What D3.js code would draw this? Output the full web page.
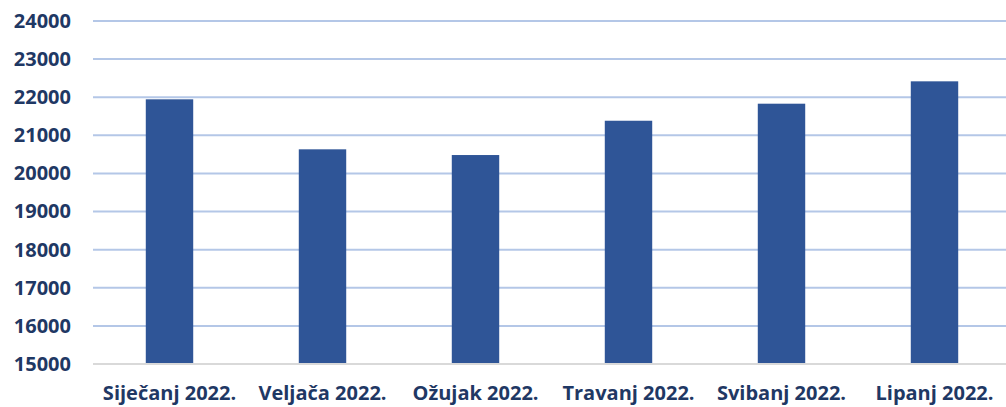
<!DOCTYPE html>
<html>
<head>
<meta charset="utf-8">
<script src="https://cdn.jsdelivr.net/npm/d3@7"></script>
<style>
  body { margin: 0; background: #fff; }
  text { font-family: "Open Sans", sans-serif; font-weight: 700; fill: #1F3864; }
</style>
</head>
<body>
<svg id="chart" width="1006" height="407"></svg>
<script>
// Data
var months = ["Siječanj 2022.", "Veljača 2022.", "Ožujak 2022.", "Travanj 2022.", "Svibanj 2022.", "Lipanj 2022."];
var counts = [21945, 20633, 20483, 21383, 21830, 22417];
var yTicks = [15000, 16000, 17000, 18000, 19000, 20000, 21000, 22000, 23000, 24000];

var svg = d3.select("#chart");
var margin = { left: 93, right: 0, top: 21, bottom: 43 };
var width = 1006 - margin.left - margin.right;
var height = 407 - margin.top - margin.bottom;

var g = svg.append("g").attr("transform", "translate(" + margin.left + "," + margin.top + ")");

// categories are spaced a bit wider than the gridlines run
var xScale = d3.scaleBand().domain(months).range([0, 918]).paddingInner(0.69).paddingOuter(0.345);
var yScale = d3.scaleLinear().domain([15000, 24000]).range([height, 0]);

// gridlines
g.selectAll(".grid").data(yTicks.slice(1)).enter()
  .append("line")
  .attr("x1", 0).attr("x2", width)
  .attr("y1", d => yScale(d)).attr("y2", d => yScale(d))
  .attr("stroke", "#B4C7E7").attr("stroke-width", 2);

// bars
g.selectAll(".bar").data(counts).enter()
  .append("rect")
  .attr("x", (d, i) => xScale(months[i]))
  .attr("width", xScale.bandwidth())
  .attr("y", d => yScale(d))
  .attr("height", d => height - yScale(d))
  .attr("fill", "#2F5597");

// baseline
g.append("line")
  .attr("x1", 0).attr("x2", width)
  .attr("y1", height).attr("y2", height)
  .attr("stroke", "#D9D9D9").attr("stroke-width", 2);

// y labels
var yAxis = d3.axisLeft(yScale).tickValues(yTicks).tickSize(0).tickPadding(22).tickFormat(d3.format("d"));
var ya = g.append("g").call(yAxis);
ya.select(".domain").remove();
ya.selectAll("text").attr("font-size", 20).attr("fill", "#1F3864");

// x labels
var xAxis = d3.axisBottom(xScale).tickSize(0).tickPadding(22);
var xa = g.append("g").attr("transform", "translate(0," + height + ")").call(xAxis);
xa.select(".domain").remove();
xa.selectAll("text").attr("font-size", 20).attr("fill", "#1F3864");
</script>
</body>
</html>
